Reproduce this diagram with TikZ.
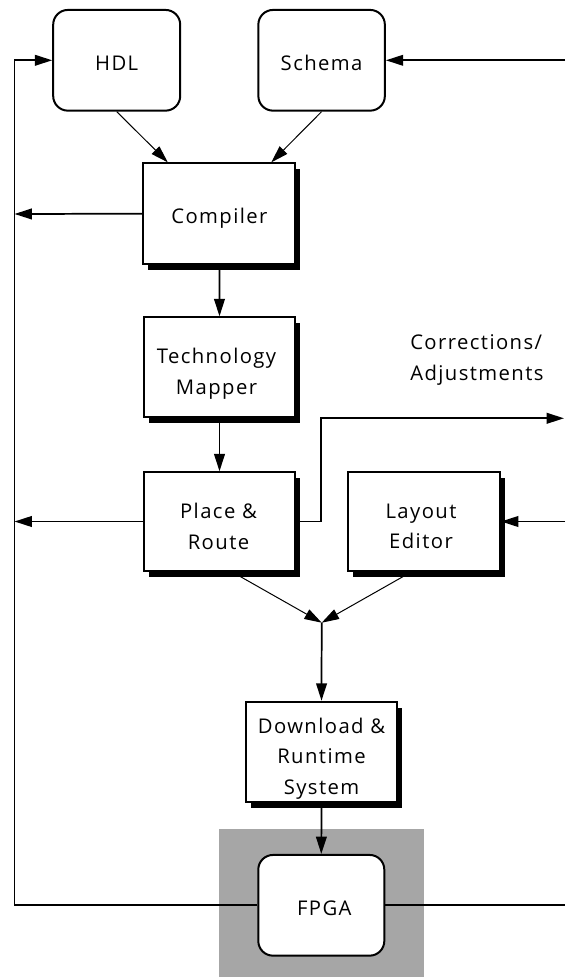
\documentclass[tikz,border=0pt]{standalone}
\usepackage{fontspec}
\setmainfont{Open Sans}[LetterSpace=7]
\usetikzlibrary{arrows.meta,shadows,calc}
\newlength\pxu
\pxu=0.75pt
\begin{document}
\begin{tikzpicture}[x=0.75pt,y=-0.75pt,
  every node/.style={font=\fontsize{15.2}{22.9}\selectfont, inner sep=0pt, align=center},
  softbox/.style={draw, line width=1.5pt, rounded corners=11pt, fill=white},
  shadebox/.style={draw, line width=1.5pt, fill=white,
    drop shadow={shadow xshift=3.6pt, shadow yshift=-4.6pt, fill=black, opacity=1}},
  flow/.style={line width=1.3pt, -{Triangle[length=13pt,width=8pt]}},
  thinflow/.style={line width=0.75pt, -{Triangle[length=13pt,width=8pt]}},
  wire/.style={line width=1.3pt}]
\useasboundingbox (0,0) rectangle (565,977);

% shaded target area behind the FPGA
\fill[fill=black!35] (219,829) rectangle (424,977);

% design entry
\node[softbox, minimum width=127\pxu, minimum height=100.7\pxu] (hdl) at (116.7,60.3) {};
\node[softbox, minimum width=126.5\pxu, minimum height=100.7\pxu] (schema) at (321.6,60.3) {};

% tool chain
\node[shadebox, minimum width=152\pxu, minimum height=100.7\pxu] (comp) at (219.4,213.7) {};
\node[shadebox, minimum width=151\pxu, minimum height=100\pxu] (tech) at (219.5,367.3) {};
\node[shadebox, minimum width=151\pxu, minimum height=98.4\pxu] (pr) at (219.5,521.5) {};
\node[shadebox, minimum width=152\pxu, minimum height=98.4\pxu] (layout) at (424,521.5) {};
\node[shadebox, minimum width=151.6\pxu, minimum height=100\pxu] (dl) at (321.5,751.7) {};
\node[softbox, minimum width=126\pxu, minimum height=100.7\pxu] (fpga) at (321.3,905.3) {};

% box captions
\node (hdl-t) at ($(hdl.center)+(0,3)$) {HDL};
\node (schema-t) at ($(schema.center)+(0,3)$) {Schema};
\node (comp-t) at ($(comp.center)+(0,5)$) {Compiler};
\node (tech-t) at ($(tech.center)+(-3,6.5)$) {Technology\\Mapper};
\node (pr-t) at ($(pr.center)+(-1,4.7)$) {Place \&\\Route};
\node (layout-t) at ($(layout.center)+(-3,4.7)$) {Layout\\Editor};
\node (dl-t) at ($(dl.center)+(0,7)$) {Download \&\\Runtime\\System};
\node (fpga-t) at ($(fpga.center)+(3,3)$) {FPGA};

\node[anchor=west, align=left] (corrtext) at (410,360) {Corrections/\\Adjustments};

% free ends and bends
\coordinate (lt) at (14.5,60.3);
\coordinate (lcomp) at (14.5,214);
\coordinate (lpr) at (14.5,521.5);
\coordinate (sin) at (565,60.3);
\coordinate (lin) at (565,521.5);
\coordinate (fout) at (565,905.3);
\coordinate (bend) at (320.7,418.3);
\coordinate (corr) at (564,418.3);
\coordinate (merge) at (321.7,622.7);

% feedback loop on the left
\draw[flow] (fpga.west) -| (lt) -- (hdl.west);
\draw[flow] (comp.west) -- (lcomp);
\draw[flow] (pr.west) -- (lpr);

% inputs from the right
\draw[flow] (sin) -- (schema.east);
\draw[flow] (lin) -- (layout.east);
\draw[wire] (fpga.east) -- (fout);
\draw[flow] (pr.east) -| (bend) -- (corr);

% main flow
\draw[thinflow] (hdl.south) -- ($(comp.north west)!0.165!(comp.north east)$);
\draw[thinflow] (schema.south) -- ($(comp.north west)!0.837!(comp.north east)$);
\draw[flow] (comp.south) -- (tech.north);
\draw[flow] (tech.south) -- (pr.north);
\draw[thinflow] ($(pr.south west)!0.58!(pr.south east)$) -- (merge);
\draw[thinflow] ($(layout.south west)!0.42!(layout.south east)$) -- (merge);
\draw[flow] (merge) -- (dl.north);
\draw[flow] (dl.south) -- (fpga.north);
\end{tikzpicture}
\end{document}
